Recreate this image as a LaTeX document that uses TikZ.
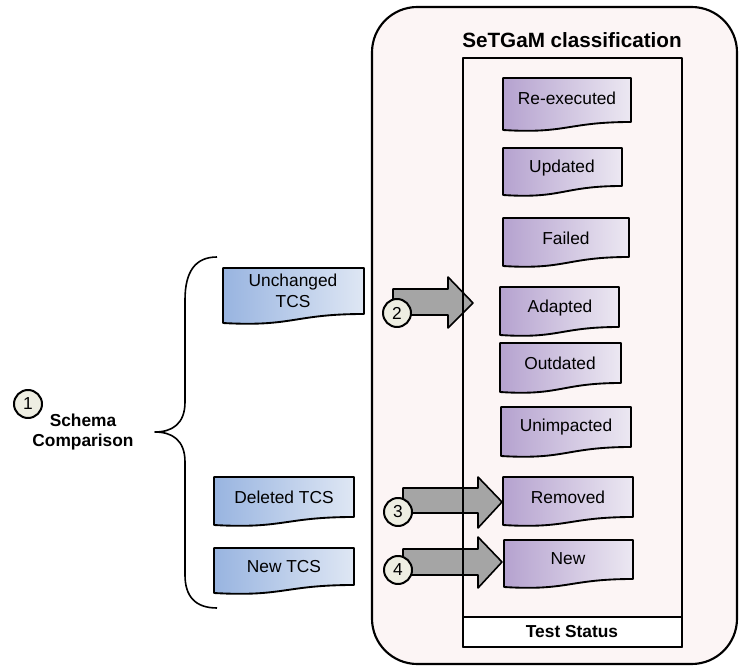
\documentclass[tikz,border=0pt]{standalone}
\usepackage{fontspec}
\setmainfont{Liberation Sans}
\definecolor{panelfill}{HTML}{FCF5F5}
\definecolor{purpledark}{HTML}{B5A2CF}
\definecolor{purplelight}{HTML}{ECE8F2}
\definecolor{bluedark}{HTML}{98B4E0}
\definecolor{bluelight}{HTML}{DFE7F4}
\definecolor{arrowgray}{HTML}{A5A5A5}
\definecolor{numfill}{HTML}{EEEEE2}
% document outline: left, top, right, bottom at right, bottom at left
\newcommand\docpath[5]{(#1,#2) -- (#3,#2) -- (#3,#4) .. controls ({(#1+#3)/2},#4) and ({(#1+#3)/2},#5+4) .. (#1,#5) -- cycle}
\begin{document}
\begin{tikzpicture}[x=0.75pt,y=-0.75pt,line join=round,
    txt/.style={font=\fontsize{13}{15.5}\selectfont,align=center,inner sep=0pt},
    bold/.style={font=\fontsize{13}{15.5}\selectfont\bfseries,align=center,inner sep=0pt},
    purpledoc/.style={draw=black,line width=1.4pt,left color=purpledark,right color=purplelight},
    bluedoc/.style={draw=black,line width=1.4pt,left color=bluedark,right color=bluelight},
    num/.style={circle,draw=black,fill=numfill,line width=1.5pt,minimum size=21pt,inner sep=0pt,font=\fontsize{13}{13}\selectfont},
    fatarrow/.style={draw=black,fill=arrowgray,line width=1.2pt}]
  \useasboundingbox (0,0) rectangle (739,666);

  % panel
  \draw[fill=panelfill,line width=1.6pt,rounded corners=34pt] (372,7) rectangle (737,664);
  \node[bold,font=\fontsize{15.5}{18}\selectfont\bfseries] (title) at (572,40) {SeTGaM classification};
  \fill[panelfill] (463,58) rectangle (682,617);

  % block arrows
  \draw[fatarrow] (393,289) -- (448,289) -- (448,277) -- (473,303) -- (448,328) -- (448,315) -- (393,315) -- cycle;
  \draw[fatarrow] (403,488) -- (478,488) -- (478,477) -- (502,502) -- (478,528) -- (478,513) -- (403,513) -- cycle;
  \draw[fatarrow] (403,549) -- (478,549) -- (478,537) -- (502,562) -- (478,588) -- (478,575) -- (403,575) -- cycle;

  \draw[line width=1.6pt] (463,58) rectangle (682,647);
  \draw[line width=1.6pt,fill=white] (463,617) rectangle (682,647);
  \node[bold] (status) at (572,632) {Test Status};

  % test status documents
  \path[purpledoc] \docpath{503}{78}{631}{122}{130};
  \node[txt] (reexec) at (567,98) {Re-executed};
  \path[purpledoc] \docpath{503}{148}{622}{186}{195};
  \node[txt] (updated) at (562,168) {Updated};
  \path[purpledoc] \docpath{503}{218}{629}{257}{266};
  \node[txt] (failed) at (566,238) {Failed};
  \path[purpledoc] \docpath{500}{287}{619}{327}{335};
  \node[txt] (adapted) at (560,308) {Adapted};
  \path[purpledoc] \docpath{500}{343}{621}{383}{392};
  \node[txt] (outdated) at (560,363) {Outdated};
  \path[purpledoc] \docpath{501}{407}{631}{447}{456};
  \node[txt] (unimpacted) at (566,427) {Unimpacted};
  \path[purpledoc] \docpath{503}{477}{633}{517}{525};
  \node[txt] (removed) at (568,497) {Removed};
  \path[purpledoc] \docpath{504}{540}{633}{579}{587};
  \node[txt] (newstatus) at (568,559) {New};

  % test case sets
  \path[bluedoc] \docpath{223}{268}{364}{314}{323};
  \node[txt] (unchanged) at (293,291) {Unchanged\\TCS};
  \path[bluedoc] \docpath{214}{477}{354}{517}{525};
  \node[txt] (deleted) at (284,497) {Deleted TCS};
  \path[bluedoc] \docpath{214}{548}{354}{585}{593};
  \node[txt] (newtcs) at (284,567) {New TCS};

  % brace
  \draw[line width=1.2pt] (217,257) .. controls (195,257) and (185,272) .. (185,300) -- (185,402)
    .. controls (185,424) and (172,432) .. (155,432)
    .. controls (172,432) and (185,440) .. (185,462) -- (185,575)
    .. controls (185,596) and (195,608) .. (217,608);

  \node[num] (n1) at (28,404) {1};
  \node[bold] (schema) at (83,432) {Schema\\Comparison};
  \node[num] (n2) at (397,313) {2};
  \node[num] (n3) at (398,512) {3};
  \node[num] (n4) at (398,570) {4};
\end{tikzpicture}
\end{document}
